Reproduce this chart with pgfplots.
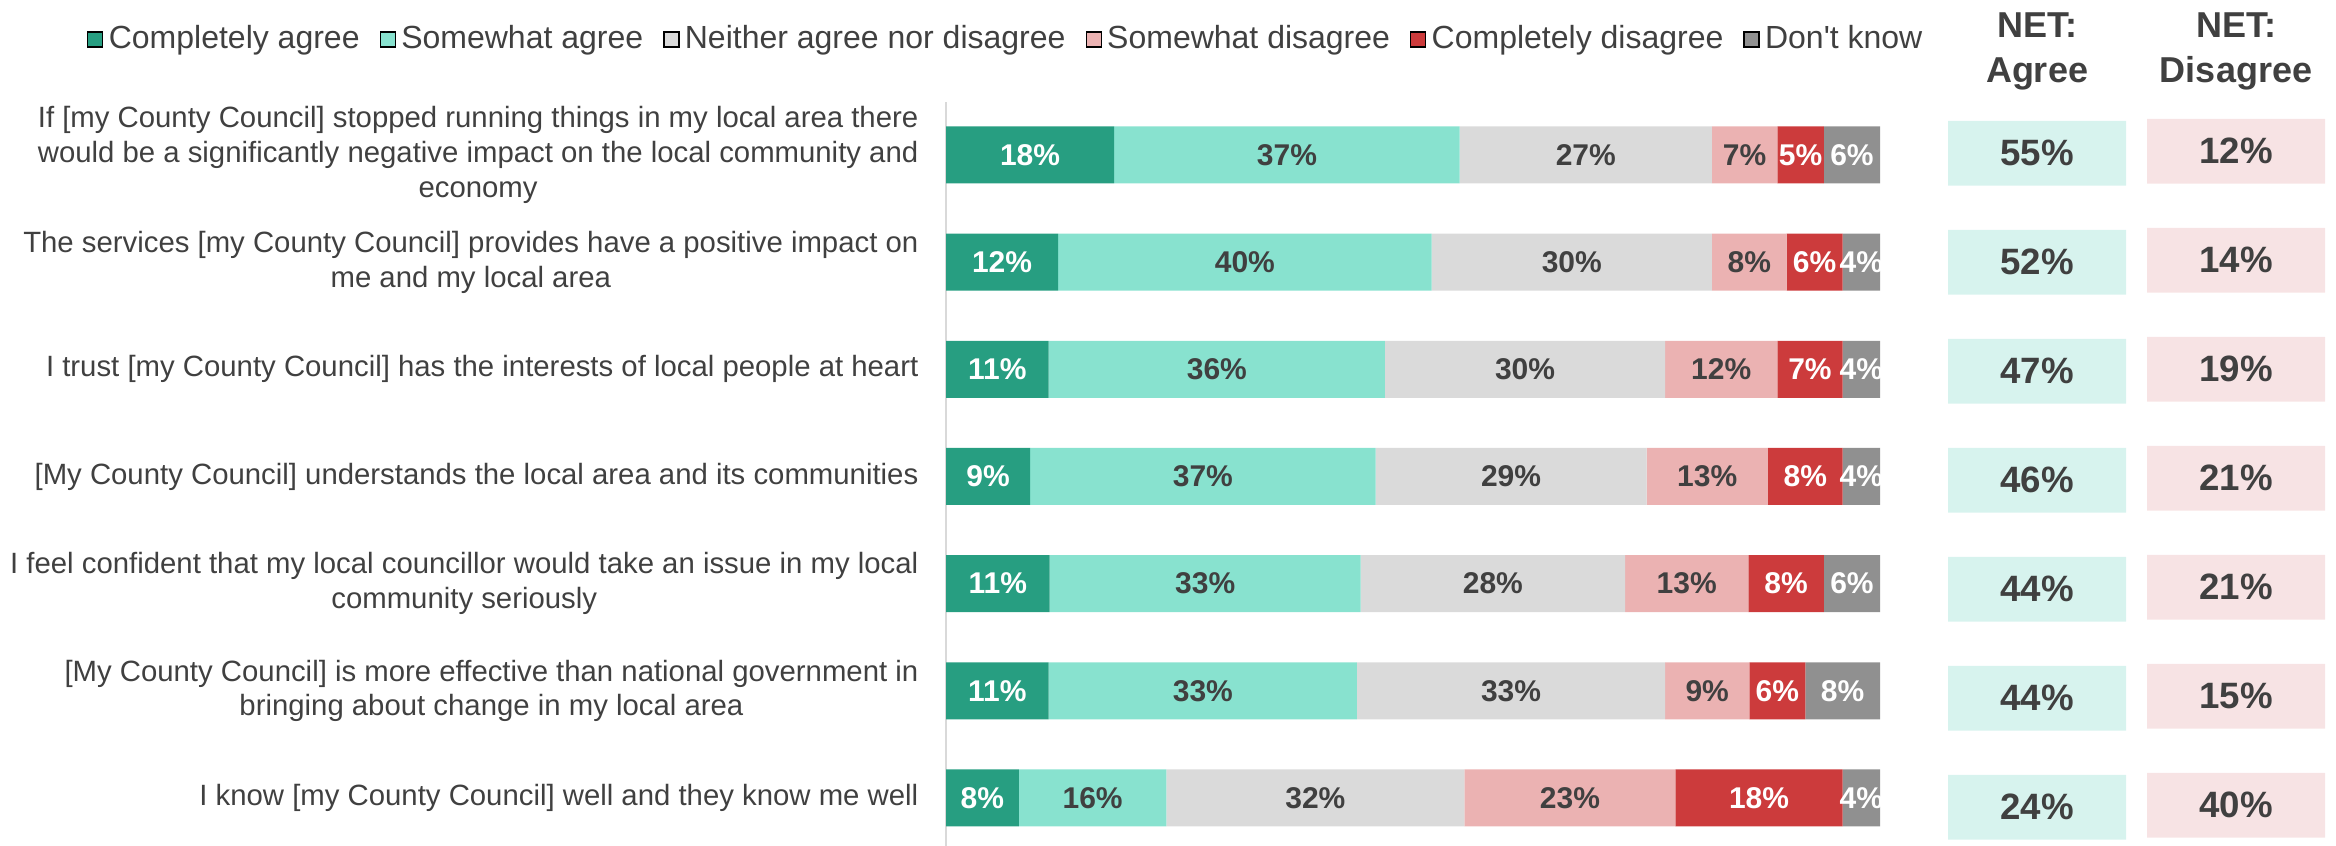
\documentclass[border=0pt]{standalone}
\usepackage{pgfplots}
\pgfplotsset{compat=1.18}
\usepackage{pgfplotstable}
\usepackage{fontspec}
\setmainfont{Liberation Sans}[Ligatures=TeXOff]
\definecolor{ca}{HTML}{279E81}
\definecolor{sa}{HTML}{88E2CF}
\definecolor{ne}{HTML}{DADADA}
\definecolor{sd}{HTML}{EBB2B2}
\definecolor{cd}{HTML}{CC3B3C}
\definecolor{dk}{HTML}{909090}
\definecolor{nab}{HTML}{D7F3EE}
\definecolor{ndb}{HTML}{F7E3E4}
\definecolor{txt}{HTML}{404040}
\definecolor{axl}{HTML}{D9D9D9}

\pgfplotstableread{
row ca sa ne sd cd dk
0 18 37 27 7 5 6
1 12 40 30 8 6 4
2 11 36 30 12 7 4
3 9 37 29 13 8 4
4 11.1 33.3 28.3 13.2 8.1 6.0
5 11 33 33 9 6 8
6 7.8 15.8 31.9 22.6 17.9 4.0
}\bars

\pgfplotstableread{
row na nd box
0 55 12 1
1 52 14 1
2 47 19 1
3 46 21 1
4 44 21 1
5 44 15 1
6 24 40 1
}\nets

\pgfplotsset{
  /pgf/number format/assume math mode=true,
  netaxis/.style={
    anchor=south west, scale only axis, width=53.4pt, height=223.2pt,
    xbar, bar width=19.41pt, xmin=0, xmax=1, y dir=reverse,
    axis lines=none, xtick=\empty, ytick=\empty,
    point meta=explicit,
    nodes near coords={\pgfmathprintnumber[fixed,precision=0,assume math mode=true]{\pgfplotspointmeta}\%},
    every node near coord/.append style={anchor=center, xshift=-26.7pt,
      font=\fontsize{11}{12}\selectfont\bfseries, text=txt, inner sep=0pt},
    title style={align=center, anchor=center, yshift=9.2pt,
      font=\fontsize{10.8}{13.5}\selectfont\bfseries, text=txt, inner sep=0pt},
  },
  seg/.style n args={2}{fill=#1, draw=none,
    every node near coord/.append style={text=#2}},
}

\begin{document}
\begin{tikzpicture}
\useasboundingbox (0,0) rectangle (700.8pt,253.8pt);
\begin{axis}[
  at={(283.8pt,0pt)}, anchor=south west,
  scale only axis, width=280.2pt, height=223.2pt,
  xbar stacked, bar width=17.1pt,
  xmin=0, xmax=100, ymin=-0.494, ymax=6.448, y dir=reverse,
  axis x line=none, axis y line*=left,
  y axis line style={draw=axl, line width=0.6pt},
  xtick=\empty, ytick={0,...,6},
  major tick length=0pt, ytick style={draw=none},
  yticklabels={
    {If [my County Council] stopped running things in my local area there\\would be a significantly negative impact on the local community and\\economy},
    {The services [my County Council] provides have a positive impact on\\me and my local area},
    {I trust [my County Council] has the interests of local people at heart},
    {[My County Council] understands the local area and its communities},
    {I feel confident that my local councillor would take an issue in my local\\community seriously},
    {[My County Council] is more effective than national government in\\bringing about change in my local area},
    {I know [my County Council] well and they know me well}},
  yticklabel style={align=center, font=\fontsize{8.8}{10.4}\selectfont, text=txt, inner sep=0pt, xshift=-8.1pt},
  point meta=explicit,
  nodes near coords={\pgfmathprintnumber[fixed,precision=0,assume math mode=true]{\pgfplotspointmeta}\%},
  every node near coord/.append style={anchor=center,
    font=\fontsize{9}{10}\selectfont\bfseries, inner sep=0pt},
  legend columns=6,
  legend cell align=left,
  legend style={at={(0.0658,1.084)}, anchor=center, draw=none, fill=none,
    font=\fontsize{9.6}{11}\selectfont, text=txt, inner sep=0pt,
    /tikz/every even column/.append style={column sep=4.4pt},
    nodes={inner xsep=1.6pt, inner ysep=0pt}},
  legend image code/.code={\fill[#1] (0pt,-2.25pt) rectangle (4.5pt,2.25pt);},
]
\addlegendimage{fill=ca}
\addlegendimage{fill=sa}
\addlegendimage{fill=ne}
\addlegendimage{fill=sd}
\addlegendimage{fill=cd}
\addlegendimage{fill=dk}
\legend{Completely agree, Somewhat agree, Neither agree nor disagree, Somewhat disagree, Completely disagree, Don't know}
\addplot[seg={ca}{white}] table[x=ca, y=row, meta=ca]{\bars};
\addplot[seg={sa}{txt}] table[x=sa, y=row, meta=sa]{\bars};
\addplot[seg={ne}{txt}] table[x=ne, y=row, meta=ne]{\bars};
\addplot[seg={sd}{txt}] table[x=sd, y=row, meta=sd]{\bars};
\addplot[seg={cd}{white}] table[x=cd, y=row, meta=cd]{\bars};
\addplot[seg={dk}{white}] table[x=dk, y=row, meta=dk]{\bars};
\end{axis}

\begin{axis}[netaxis, at={(584.4pt,0pt)}, ymin=-0.4706, ymax=6.355, title={NET:\\Agree}]
\addplot[fill=nab, draw=none] table[x=box, y=row, meta=na]{\nets};
\end{axis}

\begin{axis}[netaxis, at={(644.1pt,0pt)}, ymin=-0.452, ymax=6.373, title={NET:\\Disagree}]
\addplot[fill=ndb, draw=none] table[x=box, y=row, meta=nd]{\nets};
\end{axis}
\end{tikzpicture}
\end{document}
